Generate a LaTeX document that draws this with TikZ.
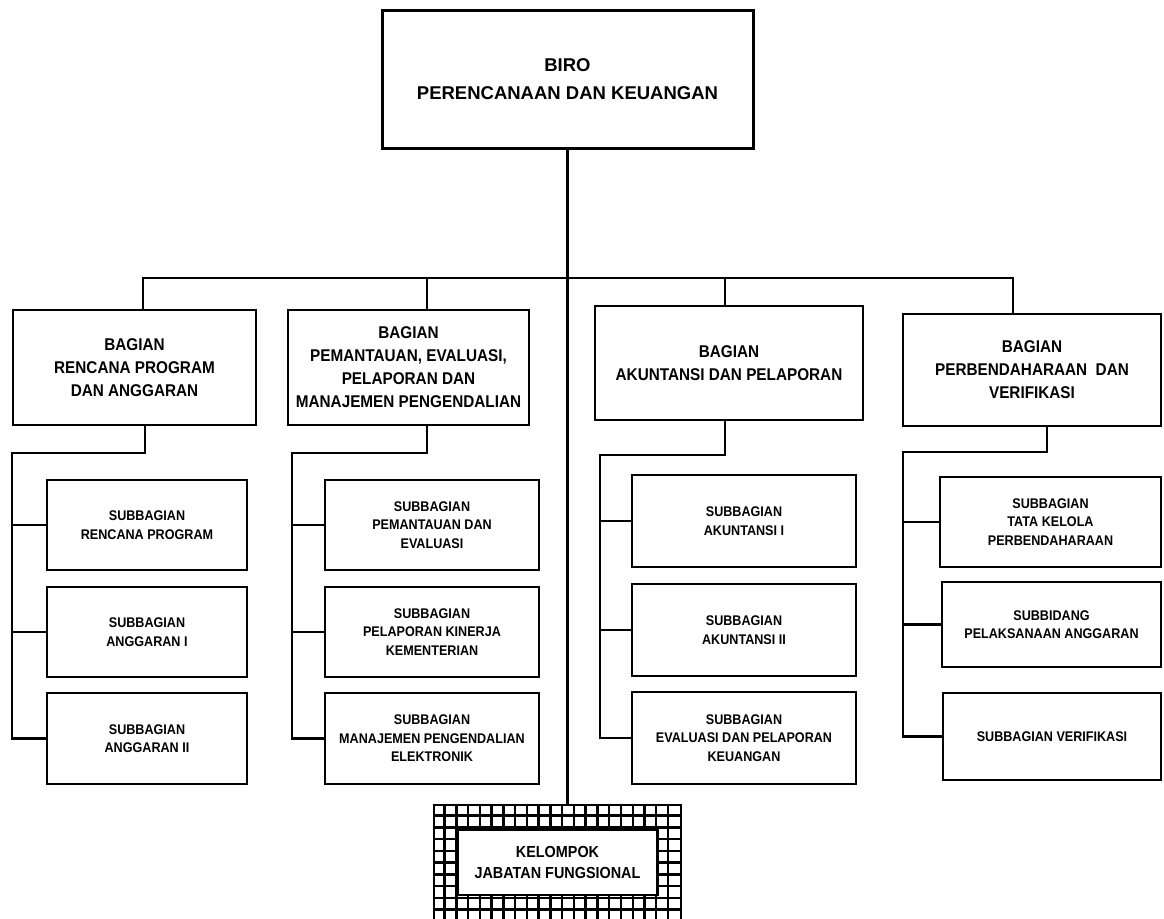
\documentclass[tikz,border=0pt]{standalone}
\usepackage{fontspec}
\setmainfont{Liberation Sans}
\newfontfamily\narrowsf[FakeStretch=0.9]{Liberation Sans}

\begin{document}
\begin{tikzpicture}[x=1pt,y=-1pt,
  every node/.style={align=center,inner sep=0pt},
  biro/.style={draw,line width=3pt,minimum width=371pt,minimum height=138pt,
    font=\bfseries\fontsize{18.5}{28}\selectfont},
  bagian/.style={draw,line width=2.4pt,font=\narrowsf\bfseries\fontsize{17}{23}\selectfont},
  subbox/.style={draw,line width=2.2pt,font=\narrowsf\bfseries\fontsize{14}{18.5}\selectfont},
  link/.style={line width=2.2pt}]
\useasboundingbox (0,0) rectangle (1164,918);

\node[biro] (biro) at (567.5,79) {BIRO\\PERENCANAAN DAN KEUANGAN};

% bagian
\node[bagian,minimum width=243pt,minimum height=115pt] (renprog) at (134.5,367.5)
  {BAGIAN\\RENCANA PROGRAM\\DAN ANGGARAN};
\node[bagian,minimum width=241pt,minimum height=115pt] (pemantauan) at (408.5,367.5)
  {BAGIAN\\PEMANTAUAN, EVALUASI,\\PELAPORAN DAN\\MANAJEMEN PENGENDALIAN};
\node[bagian,minimum width=268pt,minimum height=114pt] (akuntansi) at (729,363)
  {BAGIAN\\AKUNTANSI DAN PELAPORAN};
\node[bagian,minimum width=258pt,minimum height=112pt] (perbend) at (1032,370)
  {BAGIAN\\PERBENDAHARAAN~ DAN\\VERIFIKASI};

% subbagian
\node[subbox,minimum width=200pt,minimum height=90pt] (rp1) at (147,525) {SUBBAGIAN\\RENCANA PROGRAM};
\node[subbox,minimum width=200pt,minimum height=90pt] (rp2) at (147,632) {SUBBAGIAN\\ANGGARAN I};
\node[subbox,minimum width=200pt,minimum height=91pt] (rp3) at (147,738.5) {SUBBAGIAN\\ANGGARAN II};

\node[subbox,minimum width=214pt,minimum height=90pt] (pm1) at (432,525) {SUBBAGIAN\\PEMANTAUAN DAN\\EVALUASI};
\node[subbox,minimum width=214pt,minimum height=90pt] (pm2) at (432,632) {SUBBAGIAN\\PELAPORAN KINERJA\\KEMENTERIAN};
\node[subbox,minimum width=214pt,minimum height=91pt] (pm3) at (432,738.5) {SUBBAGIAN\\MANAJEMEN PENGENDALIAN\\ELEKTRONIK};

\node[subbox,minimum width=224pt,minimum height=92pt] (ak1) at (744,521) {SUBBAGIAN\\AKUNTANSI I};
\node[subbox,minimum width=224pt,minimum height=92pt] (ak2) at (744,630) {SUBBAGIAN\\AKUNTANSI II};
\node[subbox,minimum width=224pt,minimum height=92pt] (ak3) at (744,738) {SUBBAGIAN\\EVALUASI DAN PELAPORAN\\KEUANGAN};

\node[subbox,minimum width=221pt,minimum height=90pt] (pb1) at (1050.5,522) {SUBBAGIAN\\TATA KELOLA\\PERBENDAHARAAN};
\node[subbox,minimum width=219pt,minimum height=85pt] (pb2) at (1051.5,624.5) {SUBBIDANG\\PELAKSANAAN ANGGARAN};
\node[subbox,minimum width=218pt,minimum height=87pt] (pb3) at (1052,736.5) {SUBBAGIAN VERIFIKASI};

% kelompok jabatan fungsional, grid frame
\node[draw,line width=2.4pt,minimum width=247pt,minimum height=115pt] (kjf) at (557.5,862.5) {};
\foreach \i in {1,...,20}
  \draw[line width=2.4pt] ([xshift=\i*11.76pt]kjf.north west) -- ([xshift=\i*11.76pt]kjf.south west);
\foreach \j in {1,...,9}
  \draw[line width=2.4pt] ([yshift=-\j*11.76pt]kjf.north west) -- ([yshift=-\j*11.76pt]kjf.north east);
\node[draw,fill=white,line width=2.4pt,minimum width=200pt,minimum height=65pt,
  font=\narrowsf\bfseries\fontsize{16}{21}\selectfont] (kjfname) at (kjf) {KELOMPOK\\JABATAN FUNGSIONAL};

% connectors
\coordinate (bus) at (565,278);
\draw[link] (biro.south) -- (biro.south |- kjf.north);
\draw[link] ([xshift=8.5pt]renprog.north) |- ([xshift=-19pt]perbend.north |- bus) -- ([xshift=-19pt]perbend.north);
\draw[link] ([xshift=18.5pt]pemantauan.north) -- ([xshift=18.5pt]pemantauan.north |- bus);
\draw[link] ([xshift=-4pt]akuntansi.north) -- ([xshift=-4pt]akuntansi.north |- bus);

\coordinate (s1) at (12,453);
\coordinate (s2) at (292,453);
\coordinate (s3) at (600,455);
\coordinate (s4) at (903,452);
\draw[link] ([xshift=10.5pt]renprog.south) |- (s1) |- (rp3.west);
\draw[link] ([xshift=18.5pt]pemantauan.south) |- (s2) |- (pm3.west);
\draw[link] ([xshift=-4pt]akuntansi.south) |- (s3) |- (ak3.west);
\draw[link] ([xshift=15pt]perbend.south) |- (s4) |- (pb3.west);
\foreach \s/\a/\b in {s1/rp1/rp2,s2/pm1/pm2,s3/ak1/ak2,s4/pb1/pb2}{
  \draw[link] (\s |- \a) -- (\a.west);
  \draw[link] (\s |- \b) -- (\b.west);
}
\end{tikzpicture}
\end{document}
